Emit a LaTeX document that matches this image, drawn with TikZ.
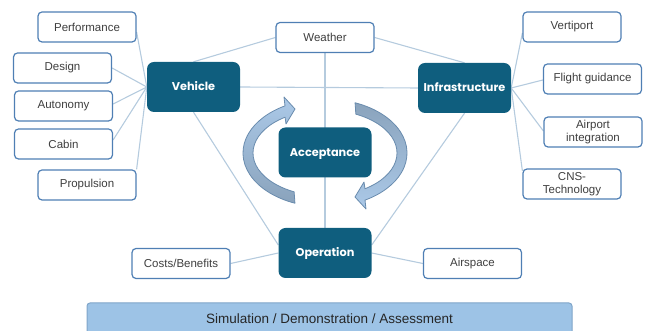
\documentclass[tikz,border=0pt]{standalone}
\usepackage{fontspec}
\setmainfont{Liberation Sans}
\newfontfamily\boxfont{Poppins}
\usetikzlibrary{backgrounds,calc}
\definecolor{darkbox}{HTML}{0F5E7E}
\definecolor{leafline}{HTML}{4F7FB4}
\definecolor{connc}{HTML}{B5CBDE}
\definecolor{leaftext}{HTML}{3F3F3F}
\definecolor{barfill}{HTML}{9DC3E6}
\definecolor{barline}{HTML}{7FA5C9}
\definecolor{arrlight}{HTML}{ABC9E8}
\definecolor{arrdark}{HTML}{8AA3BC}
\definecolor{arredge}{HTML}{6A8CAE}
\begin{document}
\begin{tikzpicture}[x=1pt,y=1pt,
  leaf/.style={draw=leafline, line width=1.2pt, fill=white, rounded corners=4pt,
    minimum height=30pt, minimum width=98pt, inner sep=0pt, text=leaftext,
    font=\fontsize{11.5}{13}\selectfont, align=center},
  hub/.style={fill=darkbox, rounded corners=7pt, minimum width=93pt,
    minimum height=50pt, inner sep=0pt, text=white, text height=8pt, text depth=0pt,
    font=\boxfont\bfseries\fontsize{11.3}{13}\selectfont},
  link/.style={draw=connc, line width=1.1pt},
  bendarrow/.style={draw=arredge, line width=0.8pt, line join=round}]
\useasboundingbox (0,0) rectangle (650,331);

% hubs
\node[hub] (veh) at (193.5,244) {Vehicle};
\node[hub] (inf) at (464.5,243) {Infrastructure};
\node[hub] (acc) at (325,178.5) {Acceptance};
\node[hub] (ope) at (325,78) {Operation};

% leaves
\node[leaf] (wea) at (325,293.5) {Weather};
\node[leaf] (perf) at (87,304) {Performance};
\node[leaf] (des) at (62.5,263) {Design};
\node[leaf] (aut) at (63.5,225) {Autonomy};
\node[leaf] (cab) at (63.5,187) {Cabin};
\node[leaf] (pro) at (87,146) {Propulsion};
\node[leaf] (ver) at (572,304) {Vertiport};
\node[leaf] (fli) at (592.5,252) {Flight guidance};
\node[leaf] (air) at (593,199) {Airport\\integration};
\node[leaf] (cns) at (572,147) {CNS-\\Technology};
\node[leaf] (cost) at (181,67.5) {Costs/Benefits};
\node[leaf] (aspc) at (472.5,67.5) {Airspace};

% bottom bar
\node[draw=barline, fill=barfill, line width=1pt, rounded corners=3pt,
  minimum width=485pt, minimum height=32pt, inner sep=0pt,
  font=\fontsize{13.5}{15}\selectfont, text=black!85] (bar) at (329.5,12)
  {\raisebox{-2pt}{Simulation / Demonstration / Assessment}};

% connectors
\begin{scope}[on background layer]
\draw[link] (veh.north) -- (wea.west);
\draw[link] (inf.north) -- (wea.east);
\draw[link] (veh.east) -- (inf.west);
\draw[link] (wea.south) -- (ope.north);
\draw[link] (veh.south) -- ($(ope.west)+(0,8)$);
\draw[link] (inf.south) -- ($(ope.east)+(0,8)$);
\draw[link] (ope.west) -- (cost.east);
\draw[link] (ope.east) -- (aspc.west);
\draw[link] (veh.west) -- ($(perf.east)+(0,-5)$);
\draw[link] (veh.west) -- (des.east);
\draw[link] (veh.west) -- ($(aut.east)+(0,2)$);
\draw[link] (veh.west) -- ($(cab.east)+(0,4)$);
\draw[link] (veh.west) -- (pro.north east);
\draw[link] (inf.east) -- ($(ver.west)+(0,-6)$);
\draw[link] (inf.east) -- ($(fli.west)+(0,-1)$);
\draw[link] (inf.east) -- ($(air.west)+(0,1)$);
\draw[link] (inf.east) -- ($(cns.west)+(0,13)$);
\end{scope}

% curved arrows around Acceptance
\coordinate (c) at (325,178);
\path[bendarrow, top color=arrlight, bottom color=arrdark, shift={(c)}]
  (248.5:82 and 54) arc[start angle=248.5, end angle=119.2, x radius=82, y radius=54]
  -- (-41,56) -- (-30,44) -- (-39,29)
  -- (123.7:72 and 43) arc[start angle=123.7, end angle=244.6, x radius=72, y radius=43]
  -- cycle;
\path[bendarrow, top color=arrdark, bottom color=arrlight, shift={(c)}]
  (68.5:82 and 54) arc[start angle=68.5, end angle=-60.8, x radius=82, y radius=54]
  -- (41,-56) -- (30,-44) -- (39,-29)
  -- (-56.3:72 and 43) arc[start angle=-56.3, end angle=64.6, x radius=72, y radius=43]
  -- cycle;
\end{tikzpicture}
\end{document}
